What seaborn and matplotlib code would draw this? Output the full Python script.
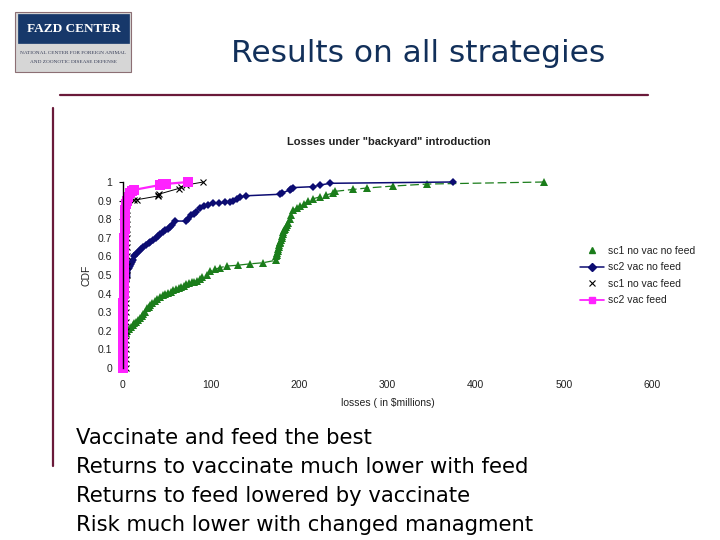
import matplotlib
matplotlib.use("Agg")
import matplotlib.pyplot as plt
from matplotlib.lines import Line2D
from matplotlib.patches import Rectangle
import seaborn as sns
import pandas as pd

# ---------------- data ----------------
sc1_novac_nofeed_x = [3, 5, 7, 9, 11, 13, 15, 17, 19, 21, 23, 25, 27, 29, 31, 33, 36, 39, 42, 45,
                      48, 51, 54, 57, 60, 63, 66, 69, 72, 75, 78, 81, 84, 87, 90, 95, 99, 104, 110, 118,
                      131, 144, 159, 174, 174, 175, 175, 176, 176, 177, 177, 178, 178, 179, 180, 180, 181, 182, 183, 184,
                      185, 186, 187, 189, 191, 193, 197, 201, 205, 210, 216, 223, 230, 238, 241, 261, 277, 306, 345, 478]
sc1_novac_nofeed_y = [0.19, 0.20, 0.21, 0.22, 0.23, 0.24, 0.25, 0.26, 0.27, 0.28, 0.29, 0.30, 0.32, 0.33, 0.34, 0.35, 0.36, 0.37, 0.38, 0.39,
                      0.40, 0.405, 0.41, 0.42, 0.425, 0.43, 0.435, 0.44, 0.45, 0.455, 0.46, 0.465, 0.47, 0.48, 0.49, 0.50, 0.52, 0.53, 0.54, 0.548,
                      0.553, 0.56, 0.566, 0.58, 0.60, 0.61, 0.62, 0.63, 0.64, 0.65, 0.66, 0.67, 0.68, 0.69, 0.70, 0.71, 0.72, 0.73, 0.74, 0.75,
                      0.76, 0.77, 0.78, 0.80, 0.82, 0.85, 0.86, 0.87, 0.88, 0.90, 0.91, 0.92, 0.93, 0.94, 0.95, 0.96, 0.968, 0.978, 0.989, 1.0]

sc2_vac_nofeed_x = [3, 3, 4, 4, 5, 5, 6, 7, 8, 9, 10, 11, 12, 14, 16, 18, 20, 23, 26, 29,
                    31, 34, 37, 40, 42, 45, 48, 51, 53, 56, 59, 72, 74, 77, 80, 83, 87, 92, 96, 102,
                    109, 116, 121, 125, 129, 133, 140, 178, 180, 189, 191, 193, 216, 224, 235, 374]
sc2_vac_nofeed_y = [0.47, 0.48, 0.49, 0.50, 0.51, 0.52, 0.53, 0.54, 0.55, 0.56, 0.57, 0.58, 0.60, 0.61, 0.62, 0.63, 0.64, 0.65, 0.66, 0.67,
                    0.68, 0.69, 0.70, 0.71, 0.72, 0.73, 0.74, 0.75, 0.76, 0.77, 0.79, 0.79, 0.80, 0.82, 0.83, 0.84, 0.86, 0.87, 0.875, 0.885,
                    0.885, 0.89, 0.894, 0.90, 0.908, 0.92, 0.926, 0.934, 0.94, 0.957, 0.965, 0.97, 0.975, 0.984, 0.993, 1.0]

sc1_novac_feed_x = [3, 3, 3, 3, 3, 3, 3, 3, 3, 3, 4, 4, 4, 4, 4, 4, 4, 5, 5, 6,
                    12, 16, 40, 40, 41, 63, 66, 72, 91]
sc1_novac_feed_y = [0.0, 0.05, 0.1, 0.15, 0.2, 0.25, 0.3, 0.35, 0.4, 0.45, 0.5, 0.55, 0.6, 0.65, 0.7, 0.75, 0.8, 0.85, 0.88, 0.89,
                    0.903, 0.905, 0.925, 0.93, 0.935, 0.965, 0.975, 0.984, 1.0]

sc2_vac_feed_x = [0, 0, 0, 0, 0, 0, 0, 0, 1, 1, 1, 1, 1, 1, 1, 2, 2, 2, 3, 4,
                  6, 8, 10, 12, 42, 45, 49, 74]
sc2_vac_feed_y = [0.0, 0.05, 0.1, 0.15, 0.2, 0.25, 0.3, 0.35, 0.4, 0.45, 0.5, 0.55, 0.6, 0.65, 0.7, 0.75, 0.8, 0.85, 0.88, 0.9,
                  0.92, 0.94, 0.95, 0.957, 0.984, 0.99, 0.99, 1.0]

series_labels = ["sc1 no vac no feed", "sc2 vac no feed", "sc1 no vac feed", "sc2 vac feed"]
x_ticks = [0, 100, 200, 300, 400, 500, 600]
y_ticks = [0, 0.1, 0.2, 0.3, 0.4, 0.5, 0.6, 0.7, 0.8, 0.9, 1]
y_tick_labels = ["0", "0.1", "0.2", "0.3", "0.4", "0.5", "0.6", "0.7", "0.8", "0.9", "1"]

title = "Results on all strategies"
chart_title = 'Losses under "backyard" introduction'
bullets = ["Vaccinate and feed the best",
           "Returns to vaccinate much lower with feed",
           "Returns to feed lowered by vaccinate",
           "Risk much lower with changed managment"]

# ---------------- style ----------------
sns.set_style("white")
plt.rcParams['font.family'] = ['DejaVu Sans']

GREEN = "#1b7d1b"
NAVY = "#0c0c72"
MAGENTA = "#ff22ff"
BLACK = "#000000"
MAROON = "#6a1a3a"
TITLE_C = "#12305a"
CF = "Liberation Sans"

fig = plt.figure(figsize=(7.2, 5.4), dpi=100)
W, H = 720.0, 540.0

def fx(px):
    return px / W

def fy(py):
    return 1 - py / H

# ---------------- axes ----------------
ax = fig.add_axes([fx(123), fy(368), (652 - 123) / W, (368 - 182) / H])

def draw(x, y, color, marker, ms, ls, lw, mew=0.0, mfc=None):
    df = pd.DataFrame({"x": x, "y": y})
    sns.lineplot(data=df, x="x", y="y", ax=ax, sort=False, estimator=None,
                 color=color, marker=marker, markersize=ms, linestyle=ls, linewidth=lw,
                 markeredgewidth=mew, markeredgecolor=color,
                 markerfacecolor=mfc if mfc else color, clip_on=False)

draw(sc1_novac_nofeed_x, sc1_novac_nofeed_y, GREEN, "^", 6, (0, (7, 3)), 0.9)
draw(sc2_vac_nofeed_x, sc2_vac_nofeed_y, NAVY, "D", 4.2, "-", 1.1)
draw(sc1_novac_feed_x, sc1_novac_feed_y, BLACK, "x", 5, "-", 0.7, mew=0.8)
draw(sc2_vac_feed_x, sc2_vac_feed_y, MAGENTA, "s", 6.5, "-", 1.6)

ax.set_xlim(0, 600)
ax.set_ylim(0, 1)
ax.set_xticks(x_ticks)
ax.set_xticklabels([str(t) for t in x_ticks], fontsize=7.5, family=CF, color="#222222")
ax.set_yticks(y_ticks)
ax.set_yticklabels(y_tick_labels, fontsize=7.5, family=CF, color="#222222")
ax.tick_params(axis="x", length=0, pad=9)
ax.tick_params(axis="y", length=3, width=0.8, direction="out", pad=5, color="black", left=True)
for s in ["top", "right", "bottom"]:
    ax.spines[s].set_visible(False)
ax.spines["left"].set_color("black")
ax.spines["left"].set_linewidth(1.0)
ax.grid(False)
ax.set_facecolor("none")

ax.set_xlabel("losses ( in $millions)", fontsize=7.5, family=CF, color="#222222")
ax.set_ylabel("CDF", fontsize=7.5, family=CF, color="#222222")
ax.xaxis.set_label_coords((388 - 123) / 529, (368 - 398) / 186)
ax.yaxis.set_label_coords((92 - 123) / 529, 0.5)

fig.text(fx(389), fy(142), chart_title, ha="center", va="center",
         fontsize=8, fontweight="bold", family=CF, color="#222222")

handles = [
    Line2D([], [], color=GREEN, marker="^", markersize=5, linestyle="none"),
    Line2D([], [], color=NAVY, marker="D", markersize=4, linestyle="-", linewidth=1.1),
    Line2D([], [], color=BLACK, marker="x", markersize=4.5, markeredgewidth=0.8, linestyle="none"),
    Line2D([], [], color=MAGENTA, marker="s", markersize=5, linestyle="-", linewidth=1.3),
]
leg = fig.legend(handles, series_labels, loc="upper left",
                 bbox_to_anchor=(fx(580), fy(246)), frameon=False,
                 prop={"family": CF, "size": 7.5}, handlelength=2.3, handletextpad=0.4,
                 labelspacing=0.62, borderpad=0, borderaxespad=0)
for t in leg.get_texts():
    t.set_color("#222222")

# ---------------- slide decorations ----------------
fig.add_artist(Line2D([fx(60), fx(648)], [fy(95), fy(95)], color=MAROON, linewidth=1.6))
fig.add_artist(Line2D([fx(53), fx(53)], [fy(108), fy(466)], color=MAROON, linewidth=1.6))

fig.text(fx(418), fy(53), title, ha="center", va="center", fontsize=22.5, color=TITLE_C)

# logo
fig.add_artist(Rectangle((fx(15), fy(72)), 116 / W, 60 / H, transform=fig.transFigure,
                         facecolor="#d6d6d6", edgecolor="#8c6f74", linewidth=0.8))
fig.add_artist(Rectangle((fx(18), fy(42.5)), 111 / W, 28.5 / H, transform=fig.transFigure,
                         facecolor="#17386a", edgecolor="#17386a", linewidth=0.5))
fig.text(fx(73.5), fy(29), "FAZD CENTER", ha="center", va="center", color="white",
         fontsize=9.5, fontweight="bold", family="Liberation Serif")
fig.text(fx(73.5), fy(53), "NATIONAL CENTER FOR FOREIGN ANIMAL", ha="center", va="center",
         color="#333a55", fontsize=3.8, family="Liberation Serif")
fig.text(fx(73.5), fy(62), "AND ZOONOTIC DISEASE DEFENSE", ha="center", va="center",
         color="#333a55", fontsize=3.8, family="Liberation Serif")

# bullet text
for i, line in enumerate(bullets):
    fig.text(fx(76), fy(438 + 29 * i), line, ha="left", va="center",
             fontsize=15.2, color="black")

fig.savefig("out.png", dpi=100)
